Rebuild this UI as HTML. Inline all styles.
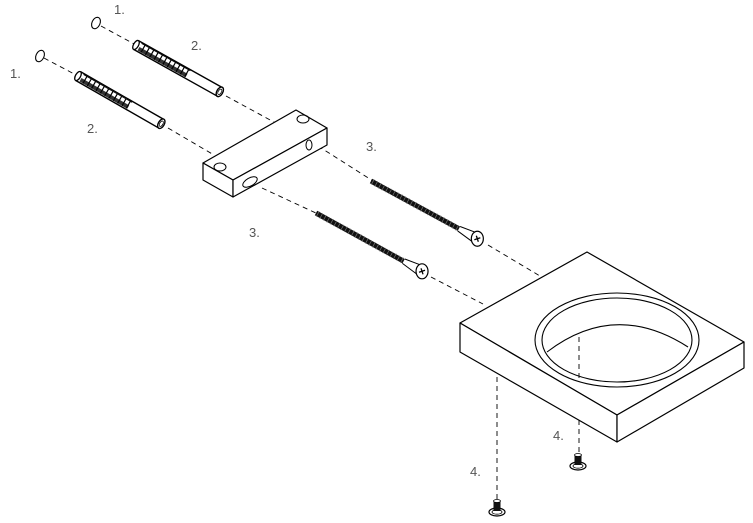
<!DOCTYPE html>
<html><head><meta charset="utf-8"><style>
html,body{margin:0;padding:0;background:#fff;}
svg{display:block;}
text{font-family:"Liberation Sans",sans-serif;font-size:13px;fill:#555;}
</style></head><body>
<svg width="753" height="523" viewBox="0 0 753 523" xmlns="http://www.w3.org/2000/svg">
<defs>
<g id="anchor">
  <path d="M0,-5 L96,-5 M0,5 L96,5" stroke="#000" stroke-width="1.4" fill="none"/>
  <ellipse cx="0" cy="0" rx="2.5" ry="5" fill="#fff" stroke="#000" stroke-width="1.3"/>
  <rect x="4" y="0" width="55" height="4" fill="#333"/>
  <path d="M8,-4 v8 M13,-4 v8 M18,-4 v8 M23,-4 v8 M28,-4 v8 M33,-4 v8 M38,-4 v8 M43,-4 v8 M48,-4 v8 M53,-4 v8 M58,-4 v8" stroke="#000" stroke-width="1.2"/>
  <path d="M4,-4 L60,-4" stroke="#000" stroke-width="0.8"/>
  <ellipse cx="96" cy="0" rx="3" ry="5.2" fill="#fff" stroke="#000" stroke-width="1.4"/>
  <ellipse cx="96" cy="0" rx="1.6" ry="3" fill="#fff" stroke="#000" stroke-width="0.8"/>
</g>
<g id="head">
  <ellipse cx="0" cy="0" rx="6" ry="7.5" fill="#fff" stroke="#000" stroke-width="1.2"/>
  <path d="M-1,-3 L1,3 M-3,1 L3,-1" stroke="#000" stroke-width="1.3"/>
</g>
<g id="thread">
  <rect x="0" y="-2.5" width="100" height="5" fill="#111"/>
  <path d="M2,-3 v6 M6,-3 v6 M10,-3 v6 M14,-3 v6 M18,-3 v6 M22,-3 v6 M26,-3 v6 M30,-3 v6 M34,-3 v6 M38,-3 v6 M42,-3 v6 M46,-3 v6 M50,-3 v6 M54,-3 v6 M58,-3 v6 M62,-3 v6 M66,-3 v6 M70,-3 v6 M74,-3 v6 M78,-3 v6 M82,-3 v6 M86,-3 v6 M90,-3 v6 M94,-3 v6 M98,-3 v6" stroke="#777" stroke-width="0.7"/>
  <path d="M100,-2.5 L118,-5 M100,2.5 L118,5" stroke="#000" stroke-width="1" fill="none"/>
</g>
<g id="bolt">
  <ellipse cx="0" cy="6" rx="8" ry="4" fill="#fff" stroke="#000" stroke-width="1.2"/>
  <ellipse cx="0" cy="6" rx="5" ry="2.2" fill="#fff" stroke="#000" stroke-width="0.8"/>
  <rect x="-3.5" y="-5" width="7" height="10" fill="#111"/>
  <ellipse cx="0" cy="-5" rx="3.5" ry="1.5" fill="#fff" stroke="#000" stroke-width="0.8"/>
</g>
</defs>

<g stroke="#000" stroke-width="0.9" stroke-dasharray="5,4" fill="none">
  <line x1="101" y1="26" x2="136" y2="45"/>
  <line x1="226" y1="96" x2="296" y2="134"/>
  <line x1="318" y1="146" x2="373" y2="181"/>
  <line x1="488" y1="245" x2="540" y2="276"/>
  <line x1="44" y1="58" x2="78" y2="76"/>
  <line x1="168" y1="128" x2="214" y2="155"/>
  <line x1="262" y1="188" x2="318" y2="214"/>
  <line x1="431" y1="277" x2="483" y2="304"/>
  <line x1="497" y1="377" x2="497" y2="500"/>
  <line x1="579" y1="420" x2="579" y2="452"/>
</g>

<ellipse cx="96" cy="23" rx="4" ry="6" transform="rotate(25 96 23)" fill="none" stroke="#000" stroke-width="1.1"/>
<ellipse cx="40" cy="56" rx="4" ry="6" transform="rotate(25 40 56)" fill="none" stroke="#000" stroke-width="1.1"/>

<use href="#anchor" transform="translate(136,45) rotate(29.2)"/>
<use href="#anchor" transform="translate(78,76) rotate(29.8)"/>

<g stroke="#000" stroke-width="1.2" fill="#fff" stroke-linejoin="round">
  <polygon points="203,163 296,110 327,128 233,180"/>
  <polygon points="203,163 233,180 233,197 203,180"/>
  <polygon points="233,180 327,128 327,145 233,197"/>
</g>
<g fill="none" stroke="#000" stroke-width="1">
  <ellipse cx="220" cy="167" rx="6" ry="4"/>
  <ellipse cx="303" cy="119" rx="6" ry="4"/>
  <ellipse cx="250" cy="182" rx="8" ry="4" transform="rotate(-30 250 182)"/>
  <ellipse cx="309" cy="145" rx="3" ry="5"/>
</g>

<g transform="translate(371,181) rotate(28.5)">
  <use href="#thread"/>
  <use href="#head" transform="translate(121,0) rotate(-28.5)"/>
</g>
<g transform="translate(316,213) rotate(28.8)">
  <use href="#thread"/>
  <use href="#head" transform="translate(121,0) rotate(-28.8)"/>
</g>

<g stroke="#000" stroke-width="1.2" fill="#fff" stroke-linejoin="round">
  <polygon points="460,323 587,252 744,342 617,415"/>
  <polygon points="460,323 617,415 617,442 460,352"/>
  <polygon points="617,415 744,342 744,368 617,442"/>
</g>
<ellipse cx="617" cy="340" rx="82" ry="47" fill="none" stroke="#000" stroke-width="1.1"/>
<ellipse cx="617" cy="340" rx="75" ry="42" fill="none" stroke="#000" stroke-width="1.1"/>
<path d="M547,352 Q615,300 688,347" fill="none" stroke="#000" stroke-width="1.1"/>
<line x1="579" y1="337" x2="579" y2="378" stroke="#000" stroke-width="0.9" stroke-dasharray="5,4"/>

<use href="#bolt" transform="translate(578,460)"/>
<use href="#bolt" transform="translate(497,506)"/>

<text x="114" y="14">1.</text>
<text x="10" y="78">1.</text>
<text x="191" y="50">2.</text>
<text x="87" y="133">2.</text>
<text x="366" y="151">3.</text>
<text x="249" y="237">3.</text>
<text x="553" y="440">4.</text>
<text x="470" y="476">4.</text>
</svg>
</body></html>
